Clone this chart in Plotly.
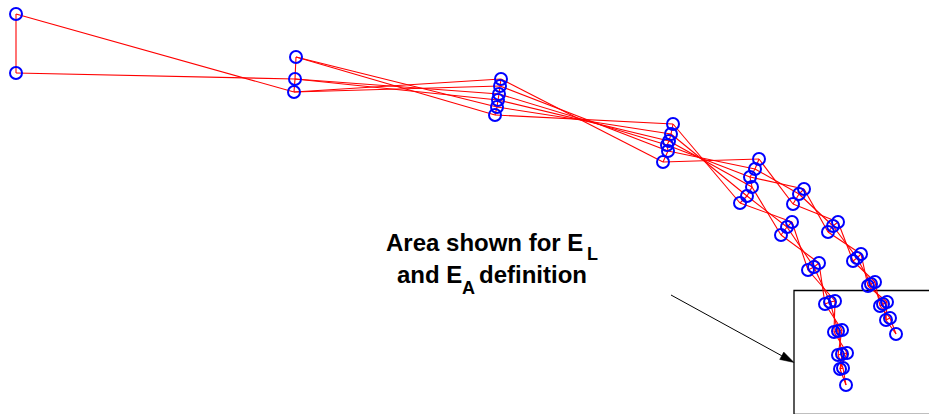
import numpy as np
import plotly.graph_objects as go

# Node stations along the strand (x, depth); nodes in each station listed top to bottom
trunk_x = [
    [16, 16],
    [296, 295, 294],
    [501, 500, 499, 498, 497, 495],
    [673, 671, 669, 667, 668, 663],
    [759, 755, 750, 752, 747, 740],
]
trunk_y = [
    [14, 73],
    [57, 79, 92],
    [79, 86, 94, 100, 107, 115],
    [124, 134, 141, 145, 151, 162],
    [159, 169, 177, 187, 196, 203],
]

# Upper branch (fed by the top three nodes of the last trunk station)
upper_x = [[804, 799, 793], [838, 833, 828], [861, 857, 853], [875, 871, 868],
           [887, 883, 880], [890, 886], [896]]
upper_y = [[189, 194, 204], [222, 226, 232], [254, 258, 261], [282, 284, 286],
           [302, 304, 306], [318, 320], [334]]

# Lower branch (fed by the bottom three nodes of the last trunk station)
lower_x = [[792, 787, 781], [819, 814, 808], [835, 830, 825], [842, 838, 834],
           [847, 842, 838], [843, 840], [846]]
lower_y = [[222, 227, 235], [263, 267, 270], [301, 302, 304], [330, 331, 332],
           [353, 354, 355], [368, 369], [385]]

# Links from the first station to the second (index pairs)
root_links = [(0, 2), (1, 1)]

# Annotation geometry
box_left, box_top = 794, 290.5
arrow_tail = (671, 295)
arrow_tip = (794, 362.5)


def pts(xs, ys):
    return list(zip(xs, ys))


def reversed_links(na, nb):
    """Twisted connection: top of one station joins the bottom of the next."""
    links = []
    if na >= nb:
        for j in range(na):
            k = (nb - 1) - (round(j * (nb - 1) / (na - 1)) if na > 1 else 0)
            links.append((j, k))
    else:
        for k in range(nb):
            j = (na - 1) - (round(k * (na - 1) / (nb - 1)) if na > 1 else 0)
            links.append((j, k))
    return links


segments = []


def add_group(g):
    for a, b in zip(g[:-1], g[1:]):
        segments.append((a, b))


def add_between(ga, gb, links=None):
    if links is None:
        links = reversed_links(len(ga), len(gb))
    for j, k in links:
        segments.append((ga[j], gb[k]))


trunk = [pts(x, y) for x, y in zip(trunk_x, trunk_y)]
upper = [pts(x, y) for x, y in zip(upper_x, upper_y)]
lower = [pts(x, y) for x, y in zip(lower_x, lower_y)]

for g in trunk + upper + lower:
    add_group(g)

add_between(trunk[0], trunk[1], root_links)
for ga, gb in zip(trunk[1:-1], trunk[2:]):
    add_between(ga, gb)

last = trunk[-1]
add_between(last[:3], upper[0])
add_between(last[3:], lower[0])
for branch in (upper, lower):
    for ga, gb in zip(branch[:-1], branch[1:]):
        add_between(ga, gb)

lx, ly = [], []
for (x0, y0), (x1, y1) in segments:
    lx += [x0, x1, None]
    ly += [y0, y1, None]

all_nodes = [p for g in trunk + upper + lower for p in g]
nx = [p[0] for p in all_nodes]
ny = [p[1] for p in all_nodes]

fig = go.Figure()
fig.add_trace(go.Scatter(x=lx, y=ly, mode="lines",
                         line=dict(color="#ff0000", width=1.1),
                         hoverinfo="skip", showlegend=False))
fig.add_trace(go.Scatter(x=nx, y=ny, mode="markers",
                         marker=dict(symbol="circle-open", size=12, color="#0000ff",
                                     line=dict(color="#0000ff", width=2)),
                         showlegend=False))

# Detail box (extends past the right and bottom edges)
fig.add_shape(type="rect", x0=box_left, y0=box_top, x1=960, y1=414.4,
              line=dict(color="black", width=1.3), layer="below")

# Pointer arrow with a narrow filled head
tail = np.array(arrow_tail, dtype=float)
tip = np.array(arrow_tip, dtype=float)
d = (tip - tail) / np.linalg.norm(tip - tail)
perp = np.array([-d[1], d[0]])
head_len, head_half = 14.0, 4.2
base = tip - d * head_len
fig.add_shape(type="line", x0=tail[0], y0=tail[1], x1=base[0], y1=base[1],
              line=dict(color="black", width=1))
c1 = base + perp * head_half
c2 = base - perp * head_half
fig.add_shape(type="path",
              path=f"M{tip[0]},{tip[1]} L{c1[0]},{c1[1]} L{c2[0]},{c2[1]} Z",
              fillcolor="black", line=dict(color="black", width=0.5))

# Label: main words and lowered subscripts placed as separate pieces
family = "Arial, Liberation Sans, sans-serif"
main_font = dict(family=family, size=24, color="black")
sub_font = dict(family=family, size=18, color="black")
label_parts = [
    ("<b>Area shown for E</b>", 385, 242.5, main_font),
    ("<b>L</b>", 586, 254.0, sub_font),
    ("<b>and E</b>", 396, 274.6, main_font),
    ("<b>A</b>", 461, 287.5, sub_font),
    ("<b>definition</b>", 478, 274.6, main_font),
]
for text, x, y, f in label_parts:
    fig.add_annotation(x=x, y=y, text=text, showarrow=False,
                       xanchor="left", yanchor="middle", borderpad=0,
                       font=f, xref="x", yref="y")

fig.update_layout(
    width=929, height=414,
    margin=dict(l=0, r=0, t=0, b=0),
    paper_bgcolor="white", plot_bgcolor="white",
    xaxis=dict(range=[0, 929], visible=False, fixedrange=True),
    yaxis=dict(range=[414, 0], visible=False, fixedrange=True),
)

fig.write_html("out.html")
